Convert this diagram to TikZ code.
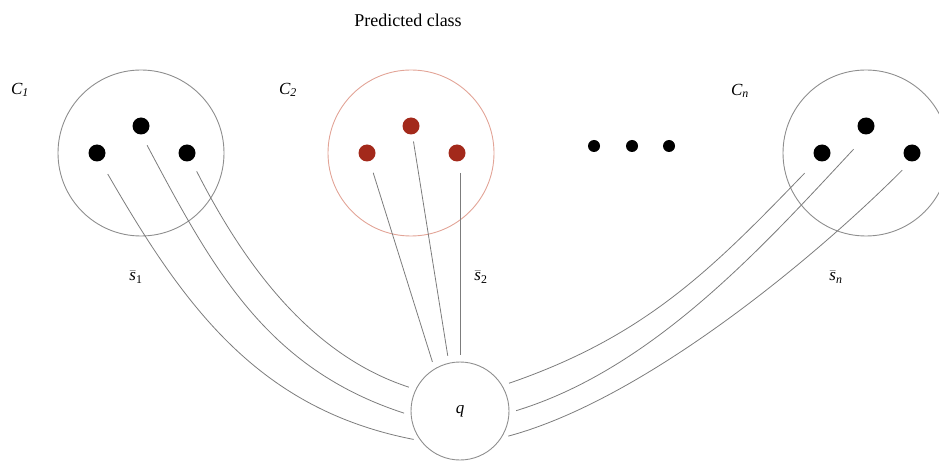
\documentclass[tikz,border=0pt]{standalone}
\usepackage{fontspec}
\setmainfont{Liberation Serif}
\usetikzlibrary{positioning}
\usepackage{xcolor}
\definecolor{wiregray}{HTML}{7C7C7C}
\definecolor{ringgray}{HTML}{8E8E8E}
\definecolor{predring}{HTML}{E2A497}
\definecolor{preddot}{HTML}{A3291B}

\newcommand{\sbar}{$\bar{\mbox{\textit{s}}}$}

\begin{document}
\begin{tikzpicture}[
        x=1pt, y=-1pt,
        every node/.style={font=\fontsize{17}{20}\selectfont},
        cluster/.style={
            circle,
            draw=ringgray,
            line width=0.9pt,
            minimum size=166pt,
            inner sep=0pt
        },
        sample/.style={
            circle,
            minimum size=17pt,
            inner sep=0pt
        },
        gapdot/.style={
            circle,
            fill=black,
            minimum size=12pt,
            inner sep=0pt
        },
        query/.style={
            circle,
            draw=ringgray,
            line width=0.9pt,
            minimum size=98pt,
            inner sep=0pt
        },
        link/.style={
            draw=wiregray,
            line width=0.8pt,
            shorten >=7pt
        }
    ]
    \useasboundingbox (0,0) rectangle (939,462);

    % Title
    \node[font=\fontsize{18}{22}\selectfont] (title) at (408,20) {Predicted class};

    % Class circles
    \node[cluster] (c1) at (141,153) {};
    \node[cluster, draw=predring] (c2) at (411,153) {};
    \node[cluster] (cn) at (866,153) {};

    % Samples in each class
    \foreach \k/\col in {1/black, 2/preddot, n/black} {
        \node[sample, fill=\col, xshift=-44pt] (s\k1) at (c\k) {};
        \node[sample, fill=\col, yshift=27pt] (s\k2) at (c\k) {};
        \node[sample, fill=\col, xshift=46pt] (s\k3) at (c\k) {};
    }

    % Ellipsis
    \foreach \x [count=\i] in {594,632,669}
        \node[gapdot] (e\i) at (\x,146) {};

    % Class labels
    \node (l1) at (20,90) {\textit{C\textsubscript{1}}};
    \node (l2) at (288,90) {\textit{C\textsubscript{2}}};
    \node (ln) at (740,91) {\textit{C\textsubscript{n}}};

    % Query
    \node[query] (q) at (460,411) {\textit{q}};

    % Links from the first class
    \draw[link, shorten <=15pt] (s11.-68) to[out=-60, in=169] (q.217);
    \draw[link, shorten <=12pt] (s12.-87) to[out=-62, in=162] (q.185);
    \draw[link, shorten <=12pt, looseness=0.9] (s13.-61) to[out=-63, in=162] (q.154);

    % Links from the predicted class
    \draw[link, shorten <=12pt] (s21) -- (q.121);
    \draw[link, shorten <=7pt] (s22) -- (q.103);
    \draw[link, shorten <=20pt] (q.north |- s23) -- (q.north);

    % Links from the last class
    \draw[link, shorten <=18pt] (sn1.-124) to[out=-134, in=19] (q.31);
    \draw[link, shorten <=20pt, looseness=0.85] (sn2.-82) to[out=-133, in=17] (q.-2);
    \draw[link, shorten <=12pt, looseness=0.75] (sn3.-98) to[out=-135, in=15] (q.-33);

    % Score labels
    \node (m1) at (136,277) {\sbar\textsubscript{1}};
    \node (m2) at (481,277) {\sbar\textsubscript{2}};
    \node (mn) at (836,277) {\sbar\textsubscript{\textit{n}}};

\end{tikzpicture}
\end{document}
